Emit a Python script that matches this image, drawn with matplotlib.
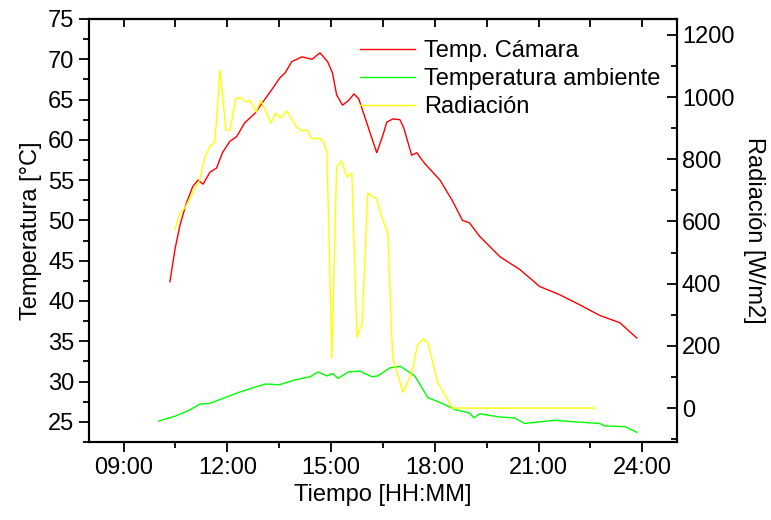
import matplotlib.pyplot as plt
from matplotlib.ticker import MultipleLocator, FuncFormatter, FixedLocator

plt.rcParams['font.family'] = ['Liberation Sans', 'DejaVu Sans']
plt.rcParams['font.size'] = 17

# Temp. Cámara (hora decimal, °C)
t_cam = [10.34, 10.49, 10.63, 10.82, 11.0, 11.15, 11.3, 11.5, 11.69, 11.86, 12.07, 12.27,
         12.5, 12.65, 12.8, 13.03, 13.28, 13.52, 13.67, 13.86, 14.16, 14.45, 14.68, 14.9,
         15.04, 15.16, 15.33, 15.51, 15.66, 15.8, 16.32, 16.5, 16.61, 16.79, 16.99, 17.1,
         17.33, 17.48, 17.7, 18.15, 18.5, 18.8, 19.0, 19.3, 19.88, 20.46, 21.03, 21.6,
         22.2, 22.77, 23.35, 23.84]
T_cam = [42.4, 46.5, 49.4, 52.2, 54.2, 55.0, 54.5, 56.0, 56.5, 58.4, 59.8, 60.4,
         62.1, 62.7, 63.3, 64.7, 66.2, 67.7, 68.3, 69.7, 70.3, 70.0, 70.8, 69.7,
         68.3, 65.6, 64.3, 64.9, 65.7, 65.1, 58.4, 60.6, 62.2, 62.6, 62.5, 61.5,
         58.1, 58.4, 57.1, 55.0, 52.5, 50.0, 49.7, 48.0, 45.5, 43.9, 41.8, 40.8,
         39.5, 38.2, 37.3, 35.4]

# Temperatura ambiente
t_amb = [10.02, 10.49, 10.92, 11.2, 11.5, 11.93, 12.36, 12.8, 13.1, 13.5, 13.95, 14.4,
         14.62, 14.88, 15.05, 15.2, 15.5, 15.83, 16.18, 16.35, 16.7, 17.0, 17.42, 17.8,
         18.15, 18.6, 19.0, 19.13, 19.3, 19.88, 20.3, 20.6, 21.03, 21.47, 22.05, 22.77,
         22.9, 23.5, 23.84]
T_amb = [25.1, 25.7, 26.5, 27.2, 27.3, 28.0, 28.7, 29.3, 29.7, 29.6, 30.2, 30.6,
         31.2, 30.7, 31.0, 30.4, 31.2, 31.3, 30.6, 30.7, 31.7, 31.9, 30.7, 28.0,
         27.4, 26.5, 26.1, 25.5, 26.0, 25.6, 25.5, 24.8, 25.0, 25.2, 25.0, 24.8,
         24.5, 24.4, 23.7]

# Radiación (W/m2)
t_rad = [10.49, 10.63, 10.77, 11.2, 11.35, 11.5, 11.64, 11.79, 11.96, 12.08, 12.25, 12.39,
         12.54, 12.65, 12.83, 12.97, 13.26, 13.4, 13.55, 13.72, 14.0, 14.16, 14.3, 14.45,
         14.62, 14.76, 14.88, 15.02, 15.16, 15.3, 15.46, 15.6, 15.75, 15.9, 16.06, 16.32,
         16.5, 16.64, 16.78, 17.08, 17.33, 17.5, 17.66, 17.8, 18.09, 18.35, 18.5, 22.62]
R = [576, 627, 643, 733, 807, 842, 855, 1087, 894, 894, 997, 997,
     984, 990, 952, 990, 916, 949, 932, 955, 904, 891, 894, 865,
     868, 862, 823, 161, 775, 794, 743, 756, 228, 273, 691, 672,
     604, 563, 161, 51, 113, 203, 222, 209, 80, 32, 0, 0]

fig = plt.figure(figsize=(7.71, 5.2), dpi=100)
ax = fig.add_axes([0.1154, 0.15, 0.7626, 0.8135])
ax2 = ax.twinx()

l1, = ax.plot(t_cam, T_cam, color='#ff0000', lw=1)
l2, = ax.plot(t_amb, T_amb, color='#00ff00', lw=1)
l3, = ax2.plot(t_rad, R, color='#ffff00', lw=1)

ax.set_xlim(8, 25)
ax.set_ylim(22.5, 75)
ax2.set_ylim(-109, 1251)

ax.xaxis.set_major_locator(MultipleLocator(3))
ax.xaxis.set_minor_locator(MultipleLocator(1.5))
ax.xaxis.set_major_formatter(FuncFormatter(lambda v, p: '%02d:00' % int(round(v))))
ax.yaxis.set_major_locator(MultipleLocator(5))
ax.yaxis.set_minor_locator(MultipleLocator(2.5))
ax2.yaxis.set_major_locator(MultipleLocator(200))
ax2.yaxis.set_minor_locator(MultipleLocator(100))

ax.tick_params(which='major', direction='out', length=7, width=1.3)
ax.tick_params(which='minor', direction='out', length=4, width=1.3)
ax2.tick_params(which='major', direction='in', length=7, width=1.3)
ax2.tick_params(which='minor', direction='in', length=4, width=1.3)

top = ax.secondary_xaxis('top')
top.xaxis.set_major_locator(FixedLocator([9 + 1.5 * i for i in range(11)]))
top.tick_params(direction='in', length=6, width=1.3, labeltop=False)

for a in (ax, ax2):
    for s in a.spines.values():
        s.set_linewidth(1.5)
for s in top.spines.values():
    s.set_linewidth(1.5)

ax.set_xlabel('Tiempo [HH:MM]')
ax.set_ylabel('Temperatura [°C]')
ax2.set_ylabel('Radiación [W/m2]', rotation=270, labelpad=22)

fig.legend([l1, l2, l3], ['Temp. Cámara', 'Temperatura ambiente', 'Radiación'],
           loc='upper left', bbox_to_anchor=(0.452, 0.945), frameon=False,
           borderpad=0, handlelength=2.3, handletextpad=0.4, labelspacing=0.25,
           fontsize=17)

fig.savefig('out.png', dpi=100)
